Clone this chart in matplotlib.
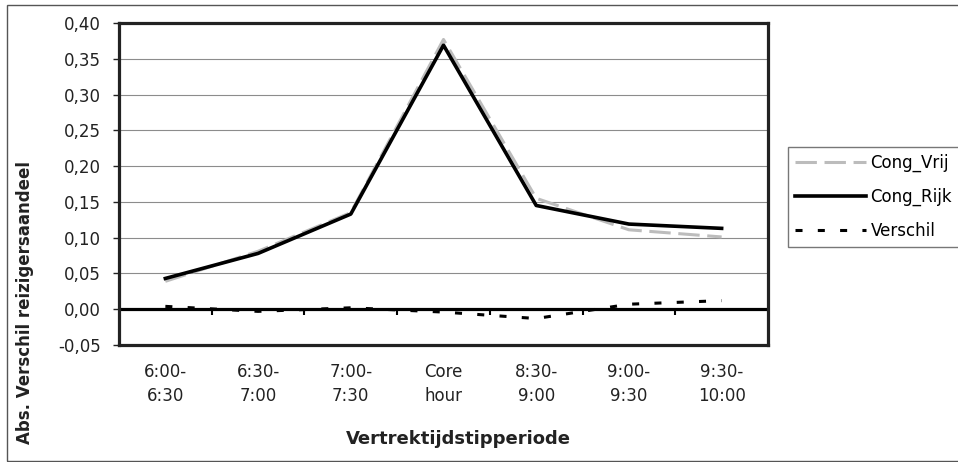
import numpy as np
import matplotlib
matplotlib.use("Agg")
import matplotlib.pyplot as plt
from matplotlib.patches import Rectangle
from matplotlib.ticker import FuncFormatter

# Data (absolute share of travellers per departure period)
categories = ["6:00-\n6:30", "6:30-\n7:00", "7:00-\n7:30", "Core\nhour",
              "8:30-\n9:00", "9:00-\n9:30", "9:30-\n10:00"]
cong_vrij = [0.039, 0.081, 0.135, 0.377, 0.155, 0.111, 0.101]
cong_rijk = [0.043, 0.078, 0.133, 0.369, 0.145, 0.119, 0.113]
verschil = [0.004, -0.003, 0.002, -0.004, -0.013, 0.007, 0.012]
y_ticks = [-0.05, 0.00, 0.05, 0.10, 0.15, 0.20, 0.25, 0.30, 0.35, 0.40]

plt.rcParams['font.family'] = ['DejaVu Sans']

W, H = 958, 462
fig = plt.figure(figsize=(W / 100, H / 100), dpi=100)
ax = fig.add_axes([119 / W, 1 - 345 / H, (768 - 119) / W, (345 - 23) / H])

x = np.arange(len(categories))

# grid and zero axis
ax.set_ylim(y_ticks[0], y_ticks[-1])
ax.set_xlim(-0.5, len(categories) - 0.5)
ax.set_yticks(y_ticks)
ax.yaxis.grid(True, color='#8c8c8c', lw=0.8)
ax.set_axisbelow(True)
ax.axhline(0, color='black', lw=2.3, zorder=2)
# category boundary ticks on the zero axis
bounds = np.arange(len(categories) - 1) + 0.5
ax.vlines(bounds, 0, -0.008, color='black', lw=1.5, zorder=2)

# series
ax.plot(x, cong_vrij, color='#bcbcbc', lw=2.2, dashes=(7, 2.5),
        label='Cong_Vrij', zorder=3)
ax.plot(x, cong_rijk, color='black', lw=2.6, label='Cong_Rijk', zorder=4)
ax.plot(x, verschil, color='black', lw=2.2, dashes=(2.3, 5.0),
        label='Verschil', zorder=4)

# axes styling
for s in ax.spines.values():
    s.set_linewidth(2.3)
    s.set_color('#222222')
ax.yaxis.set_major_formatter(FuncFormatter(lambda v, p: f"{v:.2f}".replace('.', ',')))
ax.tick_params(axis='y', direction='out', length=4, width=1, pad=9,
               labelsize=12, colors='#222222')
ax.set_xticks(x)
ax.set_xticklabels(categories, linespacing=1.45)
ax.tick_params(axis='x', length=0, pad=13, labelsize=12, colors='#222222')

# axis titles
fig.text(458 / W, 1 - 439 / H, 'Vertrektijdstipperiode', ha='center',
         va='center', fontsize=13, fontweight='bold', color='#222222')
fig.text(25 / W, 1 - 302 / H, 'Abs. Verschil reizigersaandeel', ha='center',
         va='center', rotation=90, fontsize=12, fontweight='bold',
         color='#222222')

# legend box starts right of the plot, as in the original
leg = fig.legend(loc='upper left', bbox_to_anchor=(788 / W, 1 - 147 / H),
                 bbox_transform=fig.transFigure, fontsize=12,
                 frameon=True, fancybox=False, borderaxespad=0,
                 borderpad=0.4, handlelength=4.3, handletextpad=0.25,
                 labelspacing=0.95)
leg.get_frame().set_edgecolor('#555555')
leg.get_frame().set_linewidth(1.0)

# outer chart frame
fig.add_artist(Rectangle((7 / W, 1 - 461 / H), 1.2, (461 - 5) / H,
                         transform=fig.transFigure, fill=False,
                         edgecolor='#555555', lw=1.0))

fig.savefig('out.png', dpi=100)
